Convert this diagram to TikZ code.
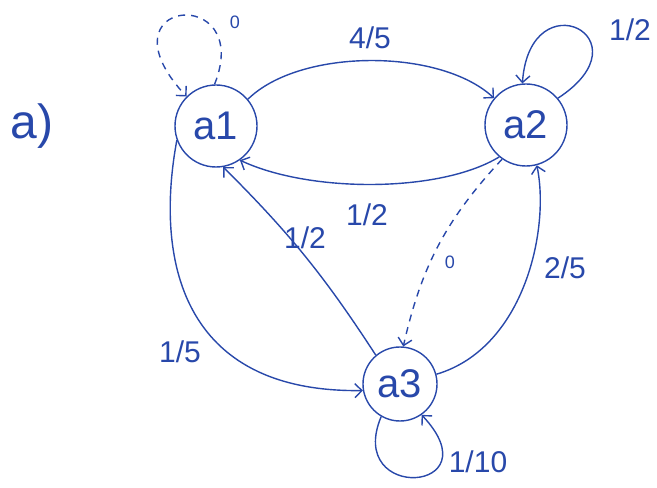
\documentclass[tikz,border=0pt]{standalone}
\usepackage{fontspec}
\setmainfont{Liberation Sans}
\usetikzlibrary{arrows.meta}
\definecolor{ink}{RGB}{40,72,170}
\begin{document}
\begin{tikzpicture}[
      x=1pt, y=1pt,
      zustand/.style={circle, draw=ink, line width=1.4pt, minimum size=82pt, inner sep=0pt, text=ink, font=\fontsize{40}{40}\selectfont},
      pfeil/.style={-{Straight Barb[length=7pt, width=14pt]}, ink, line width=1.4pt},
      gestrichelt/.style={dash pattern=on 7pt off 6pt},
      wert/.style={text=ink, font=\fontsize{30}{30}\selectfont},
      null/.style={text=ink, font=\fontsize{18}{18}\selectfont}
    ]
      \useasboundingbox (0,0) rectangle (657,488);
      \node[text=ink, font=\fontsize{48}{48}\selectfont] (teil) at (32,362) {a)};

      \node[zustand] (a1) at (216,362) {a1};
      \node[zustand] (a2) at (526,363) {a2};
      \node[zustand, minimum size=74pt] (a3) at (400,104) {a3};

      \draw[pfeil] (a1.40) .. controls (300,440) and (440,440) .. (a2.140);
      \node[wert] (w12) at (370,450) {4/5};
      \draw[pfeil] (a2.230) .. controls (440,295) and (310,295) .. (a1.-55);
      \node[wert] (w21) at (367,273) {1/2};
      \draw[pfeil] (a2.40) .. controls (650,450) and (530,510) .. (a2.95);
      \node[wert] (w22) at (630,458) {1/2};
      \draw[pfeil, gestrichelt] (a1.92) .. controls (255,505) and (95,490) .. (a1.135);
      \node[null] (w11) at (235,466) {0};

      \draw[pfeil] (a3.130) to[bend right=6] (a1.-80);
      \node[wert] (w31) at (305,250) {1/2};
      \draw[pfeil] (a1.200) .. controls (155,230) and (180,95) .. (a3.190);
      \node[wert] (w13) at (180,136) {1/5};
      \draw[pfeil] (a3.15) .. controls (525,140) and (550,260) .. (a2.-75);
      \node[wert] (w32) at (565,220) {2/5};
      \draw[pfeil, gestrichelt] (a2.235) to[bend right=15] (a3.85);
      \node[null] (w23) at (450,226) {0};
      \draw[pfeil] (a3.240) .. controls (345,-15) and (495,-5) .. (a3.-55);
      \node[wert] (w33) at (478,26) {1/10};
    \end{tikzpicture}
\end{document}
